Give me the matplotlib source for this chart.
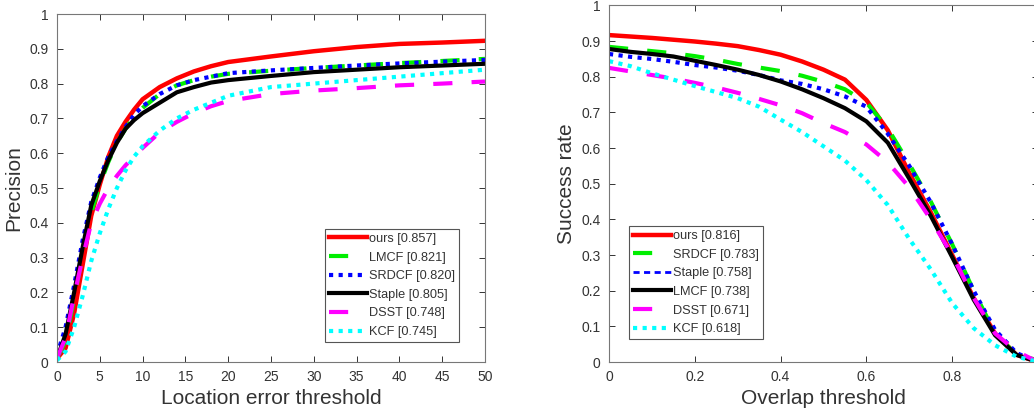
import numpy as np
import matplotlib
matplotlib.use('Agg')
import matplotlib.pyplot as plt

plt.rcParams['font.family'] = ['Liberation Sans', 'DejaVu Sans']

# ---------------- precision plot data ----------------
loc_thr = [0, 1, 2, 3, 4, 5, 6, 7, 8, 9, 10, 12, 14, 16, 18, 20, 25, 30, 35, 40, 45, 50]
prec_ours = [0.01, 0.04, 0.14, 0.28, 0.42, 0.51, 0.59, 0.65, 0.69, 0.725, 0.755, 0.79, 0.815, 0.835, 0.85, 0.862,
             0.878, 0.893, 0.905, 0.914, 0.918, 0.923]
prec_lmcf = [0.01, 0.06, 0.18, 0.31, 0.43, 0.51, 0.575, 0.63, 0.67, 0.705, 0.73, 0.77, 0.795, 0.81, 0.82, 0.828,
             0.837, 0.845, 0.852, 0.859, 0.865, 0.871]
prec_srdcf = [0.02, 0.1, 0.22, 0.35, 0.46, 0.53, 0.59, 0.635, 0.675, 0.71, 0.735, 0.77, 0.795, 0.81, 0.82, 0.83,
              0.838, 0.845, 0.852, 0.858, 0.863, 0.868]
prec_staple = [0.01, 0.08, 0.2, 0.33, 0.45, 0.52, 0.58, 0.63, 0.67, 0.695, 0.715, 0.745, 0.775, 0.79, 0.803, 0.81,
               0.822, 0.833, 0.84, 0.847, 0.852, 0.857]
prec_dsst = [0.01, 0.07, 0.19, 0.3, 0.4, 0.455, 0.5, 0.535, 0.565, 0.59, 0.615, 0.66, 0.69, 0.715, 0.735, 0.75,
             0.77, 0.78, 0.787, 0.795, 0.8, 0.806]
prec_kcf = [0.005, 0.03, 0.1, 0.19, 0.29, 0.37, 0.44, 0.5, 0.55, 0.59, 0.62, 0.665, 0.7, 0.725, 0.745, 0.765,
            0.79, 0.8, 0.81, 0.82, 0.83, 0.84]
prec_labels = ['ours [0.857]', 'LMCF [0.821]', 'SRDCF [0.820]', 'Staple [0.805]', 'DSST [0.748]', 'KCF [0.745]']

# ---------------- success plot data ----------------
ovl_thr = [0, .05, .1, .15, .2, .25, .3, .35, .4, .45, .5, .55, .6, .65, .7, .75, .8, .85, .9, .95, 1]
succ_ours = [0.917, 0.913, 0.909, 0.904, 0.899, 0.893, 0.886, 0.875, 0.862, 0.843, 0.82, 0.792, 0.735, 0.65, 0.53,
             0.42, 0.30, 0.18, 0.08, 0.02, 0.0]
succ_srdcf = [0.884, 0.878, 0.872, 0.866, 0.858, 0.848, 0.836, 0.826, 0.816, 0.803, 0.786, 0.765, 0.728, 0.655,
              0.555, 0.45, 0.33, 0.2, 0.08, 0.02, 0.005]
succ_staple = [0.864, 0.856, 0.85, 0.842, 0.833, 0.826, 0.817, 0.805, 0.79, 0.78, 0.765, 0.745, 0.716, 0.64, 0.55,
               0.448, 0.33, 0.2, 0.09, 0.025, 0.0]
succ_lmcf = [0.878, 0.87, 0.864, 0.857, 0.845, 0.833, 0.82, 0.805, 0.787, 0.765, 0.74, 0.712, 0.675, 0.615, 0.514,
             0.41, 0.294, 0.175, 0.075, 0.02, 0.0]
succ_dsst = [0.825, 0.815, 0.805, 0.795, 0.783, 0.77, 0.755, 0.738, 0.72, 0.698, 0.67, 0.645, 0.61, 0.56, 0.49,
             0.40, 0.30, 0.18, 0.08, 0.03, 0.0]
succ_kcf = [0.844, 0.83, 0.81, 0.792, 0.774, 0.757, 0.74, 0.716, 0.68, 0.645, 0.605, 0.565, 0.51, 0.44, 0.345,
            0.26, 0.165, 0.095, 0.047, 0.015, 0.0]
succ_labels = ['ours [0.816]', 'SRDCF [0.783]', 'Staple [0.758]', 'LMCF [0.738]', 'DSST [0.671]', 'KCF [0.618]']

# line styles (MATLAB-ish)
st_red = dict(color='#ff0000', lw=3.2, ls='-')
st_green = dict(color='#00ee00', lw=3.0, ls=(0, (4.6, 4.6)))
st_blue = dict(color='#0000ff', lw=3.0, ls=(0, (1, 1.3)), dash_capstyle='butt')
st_black = dict(color='#000000', lw=3.0, ls='-')
st_mag = dict(color='#ff00ff', lw=3.0, ls=(0, (4.6, 4.6)))
st_cyan = dict(color='#00ffff', lw=3.0, ls=(0, (1, 1.3)), dash_capstyle='butt')

W, H = 1034, 418
fig = plt.figure(figsize=(W / 100, H / 100), dpi=100)
ax1 = fig.add_axes([57 / W, (H - 362) / H, 428 / W, 348 / H])
ax2 = fig.add_axes([609 / W, (H - 362) / H, 429 / W, 356.5 / H])

txt_col = '#333333'
leg_kw = dict(loc='upper left', fontsize=9.2, handlelength=3.0, handletextpad=0.15, labelspacing=0.52,
              borderpad=0.3, borderaxespad=0, fancybox=False, framealpha=1, edgecolor='#555555')


def style_axes(ax):
    ax.tick_params(direction='in', length=4, width=0.7, colors=txt_col, labelsize=10,
                   top=True, right=True, pad=6)
    for s in ax.spines.values():
        s.set_color('#777777')
        s.set_linewidth(0.8)


ax1.plot(loc_thr, prec_ours, **st_red, label=prec_labels[0])
ax1.plot(loc_thr, prec_lmcf, **st_green, label=prec_labels[1])
ax1.plot(loc_thr, prec_srdcf, **st_blue, label=prec_labels[2])
ax1.plot(loc_thr, prec_staple, **st_black, label=prec_labels[3])
ax1.plot(loc_thr, prec_dsst, **st_mag, label=prec_labels[4])
ax1.plot(loc_thr, prec_kcf, **st_cyan, label=prec_labels[5])
ax1.set_xlim(0, 50)
ax1.set_ylim(0, 1)
ax1.set_xticks(np.arange(0, 51, 5))
ax1.set_yticks(np.arange(0, 1.01, 0.1))
ax1.set_yticklabels(['0', '0.1', '0.2', '0.3', '0.4', '0.5', '0.6', '0.7', '0.8', '0.9', '1'])
ax1.set_xlabel('Location error threshold', fontsize=15, color=txt_col, labelpad=3)
ax1.set_ylabel('Precision', fontsize=15, color=txt_col, labelpad=4)
style_axes(ax1)
leg1 = ax1.legend(bbox_to_anchor=(0.626, 0.382), **leg_kw)
leg1.get_frame().set_linewidth(0.8)
for t in leg1.get_texts():
    t.set_color(txt_col)

ax2.plot(ovl_thr, succ_ours, **st_red, label=succ_labels[0])
ax2.plot(ovl_thr, succ_srdcf, **st_green, label=succ_labels[1])
ax2.plot(ovl_thr, succ_staple, **st_blue, label=succ_labels[2])
ax2.plot(ovl_thr, succ_lmcf, **st_black, label=succ_labels[3])
ax2.plot(ovl_thr, succ_dsst, **st_mag, label=succ_labels[4])
ax2.plot(ovl_thr, succ_kcf, **st_cyan, label=succ_labels[5])
ax2.set_xlim(0, 1)
ax2.set_ylim(0, 1)
ax2.set_xticks(np.arange(0, 1.01, 0.2))
ax2.set_xticklabels(['0', '0.2', '0.4', '0.6', '0.8', ''])
ax2.set_yticks(np.arange(0, 1.01, 0.1))
ax2.set_yticklabels(['0', '0.1', '0.2', '0.3', '0.4', '0.5', '0.6', '0.7', '0.8', '0.9', '1'])
ax2.set_xlabel('Overlap threshold', fontsize=15, color=txt_col, labelpad=3)
ax2.set_ylabel('Success rate', fontsize=15, color=txt_col, labelpad=4)
style_axes(ax2)
leg2 = ax2.legend(bbox_to_anchor=(0.047, 0.381), **leg_kw)
leg2.get_frame().set_linewidth(0.8)
for t in leg2.get_texts():
    t.set_color(txt_col)
# legend sample for Staple is a thinner dash in the original
leg2.get_lines()[2].set_linewidth(2.0)
leg2.get_lines()[2].set_linestyle((0, (2.2, 1.6)))

fig.savefig('out.png', dpi=100)
